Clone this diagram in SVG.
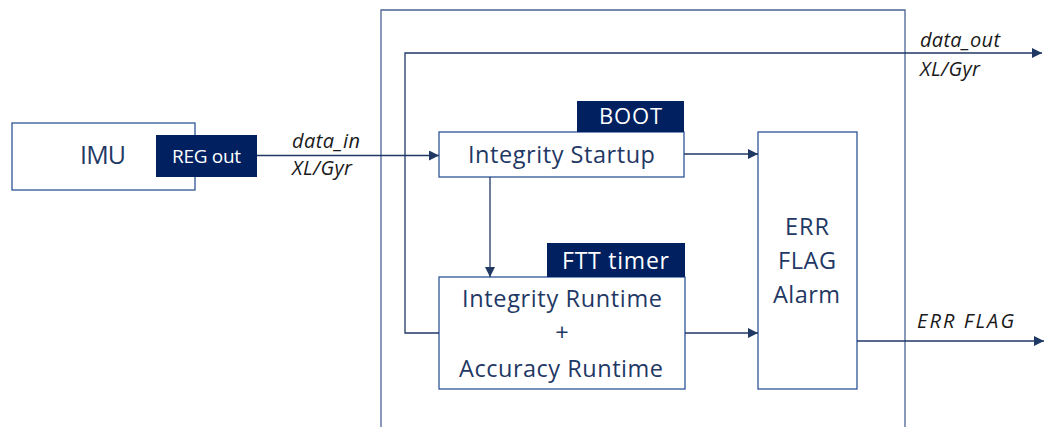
<svg xmlns="http://www.w3.org/2000/svg" width="1045" height="427" viewBox="0 0 1045 427">
  <defs>
    <marker id="arrow" viewBox="0 0 10 10" refX="10" refY="5" markerWidth="10" markerHeight="10" markerUnits="userSpaceOnUse" orient="auto">
      <path d="M0,0 L10,5 L0,10 z" fill="#1f3864"/>
    </marker>
    <style>
      .box { fill: #ffffff; stroke: #2f5597; stroke-width: 1.3; }
      .tag { fill: #002060; stroke: none; }
      .frame { fill: none; stroke: #4a6394; stroke-width: 1.3; }
      .wire { fill: none; stroke: #1f3864; stroke-width: 1.3; }
      .label { font-family: "Open Sans", "Liberation Sans", sans-serif; fill: #1f3864; }
      .tagtext { font-family: "Open Sans", "Liberation Sans", sans-serif; fill: #ffffff; }
      .signal { font-family: "Open Sans", "Liberation Sans", sans-serif; font-style: italic; fill: #1a1a1a; font-size: 20px; }
    </style>
  </defs>

  <rect id="bg" x="0" y="0" width="1045" height="427" fill="#ffffff"/>

  <!-- safety block boundary (open at the bottom) -->
  <path id="frame" class="frame" d="M381,427 V10 H905 V427"/>

  <g id="imu">
    <rect class="box" x="12" y="123" width="183" height="67"/>
    <text class="label" x="80" y="164" font-size="25" textLength="46">IMU</text>
  </g>

  <g id="reg-out">
    <rect class="tag" x="156" y="135" width="101" height="42"/>
    <text class="tagtext" x="172" y="163" font-size="19" textLength="69">REG out</text>
  </g>

  <g id="integrity-startup">
    <rect class="box" x="439" y="132" width="245" height="45"/>
    <text class="label" x="468" y="163" font-size="23.5" textLength="187">Integrity Startup</text>
  </g>

  <g id="boot">
    <rect class="tag" x="577" y="101" width="107" height="31"/>
    <text class="tagtext" x="599" y="124" font-size="22" textLength="63">BOOT</text>
  </g>

  <g id="integrity-runtime">
    <rect class="box" x="439" y="277" width="246" height="112"/>
    <text class="label" x="462" y="307" font-size="23.5" textLength="200">Integrity Runtime</text>
    <text class="label" x="562" y="341" font-size="23.5" text-anchor="middle">+</text>
    <text class="label" x="459" y="377" font-size="23.5" textLength="204">Accuracy Runtime</text>
  </g>

  <g id="ftt-timer">
    <rect class="tag" x="547" y="243" width="138" height="34"/>
    <text class="tagtext" x="562" y="269" font-size="23" textLength="107">FTT timer</text>
  </g>

  <g id="err-flag-alarm">
    <rect class="box" x="758" y="132" width="99" height="257"/>
    <text class="label" x="785" y="235" font-size="23.5" textLength="44">ERR</text>
    <text class="label" x="778" y="269" font-size="23.5" textLength="58">FLAG</text>
    <text class="label" x="773" y="303" font-size="23.5" textLength="67">Alarm</text>
  </g>

  <g id="connectors">
    <!-- sensor data into startup check -->
    <path class="wire" d="M257,155.5 H439" marker-end="url(#arrow)"/>
    <!-- pass-through data out -->
    <path class="wire" d="M439,333 H405 V53 H1042" marker-end="url(#arrow)"/>
    <!-- startup to runtime -->
    <path class="wire" d="M490,177 V277" marker-end="url(#arrow)"/>
    <!-- checks to alarm -->
    <path class="wire" d="M684,154 H758" marker-end="url(#arrow)"/>
    <path class="wire" d="M685,333 H758" marker-end="url(#arrow)"/>
    <!-- alarm output -->
    <path class="wire" d="M857,341 H1044" marker-end="url(#arrow)"/>
  </g>

  <g id="signal-labels">
    <text class="signal" x="292" y="148" textLength="68">data_in</text>
    <text class="signal" x="292" y="175" textLength="60">XL/Gyr</text>
    <text class="signal" x="920" y="47" textLength="80">data_out</text>
    <text class="signal" x="920" y="76" textLength="60">XL/Gyr</text>
    <text class="signal" x="917" y="328" textLength="97">ERR FLAG</text>
  </g>
</svg>
